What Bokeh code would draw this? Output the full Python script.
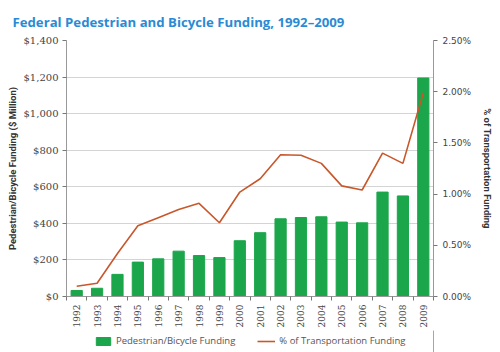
from bokeh.plotting import figure
from bokeh.layouts import column
from bokeh.models import Range1d, LinearAxis, FixedTicker, Legend, LegendItem, CustomJSTickFormatter
from bokeh.embed import file_html
from bokeh.resources import INLINE
import math

years = list(range(1992, 2010))
funding = [33, 45, 121, 188, 206, 248, 224, 213, 305, 349, 425, 432, 436, 407, 403, 571, 550, 1195]
pct = [0.10, 0.13, 0.42, 0.69, 0.77, 0.85, 0.91, 0.72, 1.02, 1.15, 1.385, 1.38, 1.30, 1.08, 1.04, 1.40, 1.30, 1.99]
left_ticks = [0, 200, 400, 600, 800, 1000, 1200, 1400]
right_ticks = [0, 0.5, 1.0, 1.5, 2.0, 2.5]
title_text = "Federal Pedestrian and Bicycle Funding, 1992\u20132009"
series_names = ["Pedestrian/Bicycle Funding", "% of Transportation Funding"]

GREEN = "#1ca64b"
ORANGE = "#c8572b"
GRAY = "#444444"

p = figure(width=500, height=330, output_backend="svg", toolbar_location=None,
           x_range=Range1d(1991.5, 2009.5), y_range=Range1d(0, 1400),
           min_border_left=66, min_border_right=67, min_border_top=39, min_border_bottom=33)
p.outline_line_color = None
p.extra_y_ranges = {"pct": Range1d(0, 2.5)}

p.title.text = title_text
p.title.text_color = "#2a8bd4"
p.title.text_font = "Open Sans"
p.title.text_font_size = "13.2px"
p.title.text_font_style = "bold"
p.title.align = "left"
p.title.offset = -54
p.title.standoff = 20

p.vbar(x=years, top=funding, width=0.55, color=GREEN)
p.line(x=years, y=pct, line_color=ORANGE, line_width=1.6, y_range_name="pct")

# x axis
xa = p.xaxis[0]
xa.ticker = FixedTicker(ticks=years, minor_ticks=[y + 0.5 for y in range(1991, 2010)])
xa.major_label_orientation = math.pi / 2
xa.major_tick_out = 0
xa.major_tick_in = 0
xa.minor_tick_out = 4
xa.minor_tick_in = 0
xa.axis_line_color = "#999999"
xa.minor_tick_line_color = "#777777"
xa.major_label_text_font = "DejaVu Serif"
xa.major_label_text_font_size = "9px"
xa.major_label_text_color = GRAY
xa.major_label_standoff = 4
p.xgrid.grid_line_color = None

# left axis
ya = p.yaxis[0]
ya.ticker = FixedTicker(ticks=left_ticks)
ya.formatter = CustomJSTickFormatter(code="return '$' + tick.toLocaleString('en-US');")
ya.axis_label = "Pedestrian/Bicycle Funding ($ Million)"
ya.axis_label_text_font = "Roboto"
ya.axis_label_text_font_style = "bold"
ya.axis_label_text_font_size = "9.5px"
ya.axis_label_text_color = "#333333"
ya.axis_label_standoff = 3
ya.major_label_text_font = "DejaVu Serif"
ya.major_label_text_font_size = "10px"
ya.major_label_text_color = GRAY
ya.major_label_standoff = 4
ya.major_tick_out = 4
ya.major_tick_in = 0
ya.minor_tick_line_color = None
ya.axis_line_color = "#999999"
ya.major_tick_line_color = "#777777"
p.ygrid.ticker = FixedTicker(ticks=left_ticks)
p.ygrid.grid_line_color = "#d4d4d4"

# right axis
ra = LinearAxis(y_range_name="pct", ticker=FixedTicker(ticks=right_ticks))
ra.formatter = CustomJSTickFormatter(code="return tick.toFixed(2) + '%';")
ra.axis_label = "% of Transportation Funding"
ra.axis_label_text_font = "Roboto"
ra.axis_label_text_font_style = "bold"
ra.axis_label_text_font_size = "9.5px"
ra.axis_label_text_color = "#333333"
ra.axis_label_standoff = 8
ra.major_label_text_font = "DejaVu Sans"
ra.major_label_text_font_size = "9px"
ra.major_label_text_color = GRAY
ra.major_tick_out = 4
ra.major_tick_in = 0
ra.minor_tick_line_color = None
ra.axis_line_color = "#999999"
ra.major_tick_line_color = "#777777"
p.add_layout(ra, "right")

# legend strip below the chart (swatch renderers sit outside the visible range)
leg = figure(width=500, height=22, output_backend="svg", toolbar_location=None,
             x_range=Range1d(0, 1), y_range=Range1d(0, 1),
             x_axis_type=None, y_axis_type=None, min_border=0)
leg.outline_line_color = None
leg.xgrid.grid_line_color = None
leg.ygrid.grid_line_color = None
lb = leg.vbar(x=[5], top=[5], width=0.5, color=GREEN)
ll = leg.line(x=[5, 6], y=[5, 6], line_color=ORANGE, line_width=1.6)
legend = Legend(items=[LegendItem(label=series_names[0], renderers=[lb]),
                       LegendItem(label=series_names[1], renderers=[ll])],
                orientation="horizontal", location=(28, 5),
                label_text_font="Open Sans", label_text_font_size="9.5px", label_text_color="#555555",
                label_height=12, label_standoff=4,
                glyph_width=18, glyph_height=10, spacing=22, padding=0, margin=0,
                border_line_color=None, background_fill_alpha=0)
leg.add_layout(legend, "center")

layout = column(p, leg, spacing=0)
open("out.html", "w").write(file_html(layout, INLINE))
